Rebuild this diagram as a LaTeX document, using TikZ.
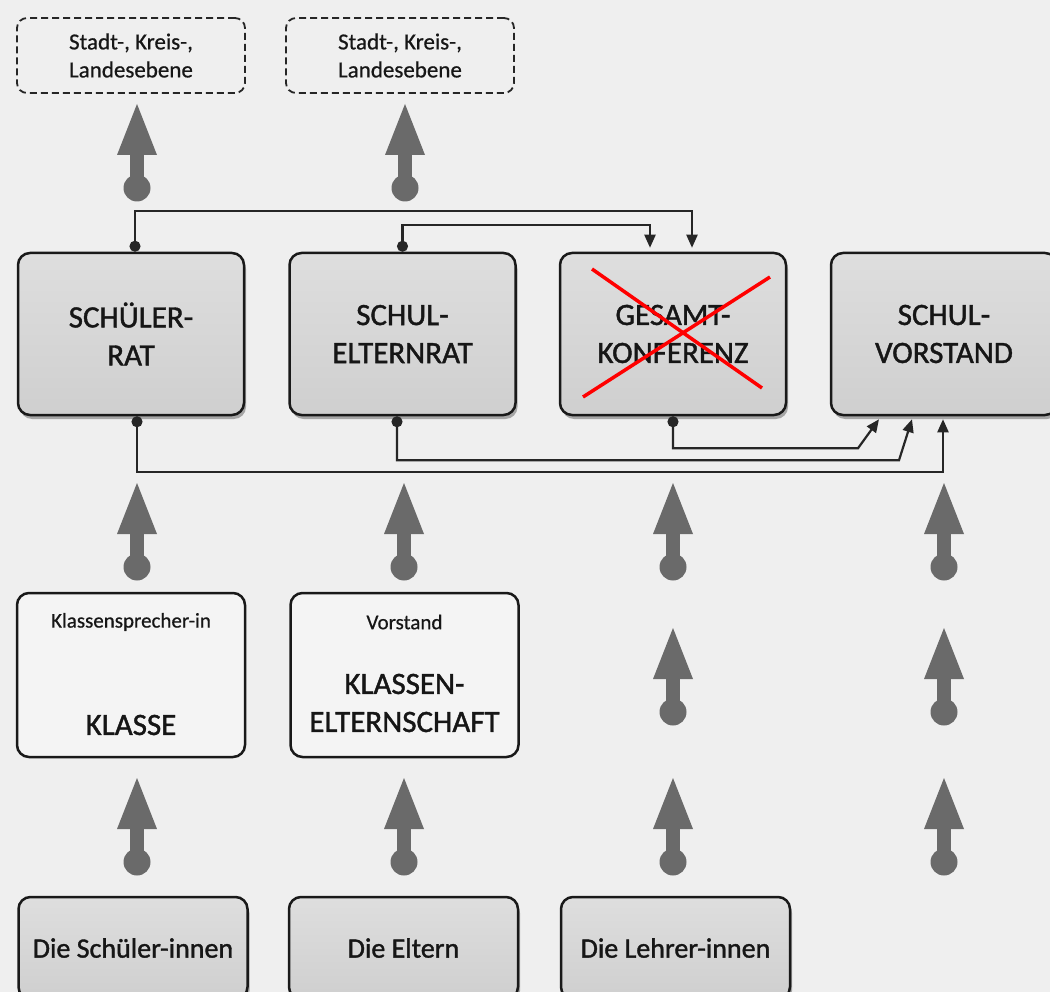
\documentclass[tikz,border=0pt]{standalone}
\usepackage{fontspec}
\setmainfont{Carlito}
\newfontfamily\medfont{Carlito}[FakeBold=1.3]
\newfontfamily\semifont{Carlito}[FakeBold=0.6]
\usetikzlibrary{arrows.meta,shadows,calc}
\definecolor{bg}{HTML}{EFEFEF}
\definecolor{agray}{HTML}{6A6A6A}
\definecolor{boxtop}{HTML}{DEDEDE}
\definecolor{boxbot}{HTML}{CFCFCF}
\definecolor{txt}{HTML}{161616}
\definecolor{wfill}{HTML}{F4F4F4}
\begin{document}
\begin{tikzpicture}[x=1pt,y=-1pt,
  graybox/.style={draw=black!90, line width=2.5pt, rounded corners=12pt,
    top color=boxtop, bottom color=boxbot, minimum width=226pt, minimum height=162pt,
    inner sep=0pt, align=center, text=txt, font=\medfont\fontsize{31}{38}\selectfont,
    drop shadow={shadow xshift=2pt, shadow yshift=-4pt, opacity=0.3, fill=black}},
  basebox/.style={graybox, minimum width=229pt, minimum height=102pt, font=\medfont\fontsize{28}{33}\selectfont},
  whitebox/.style={draw=black!90, line width=2.5pt, rounded corners=12pt, fill=wfill,
    minimum width=228pt, minimum height=164pt, inner sep=0pt},
  dashbox/.style={draw=black!85, line width=1.8pt, dash pattern=on 7pt off 4pt,
    rounded corners=10pt, minimum width=228pt, minimum height=75pt, inner sep=0pt,
    align=center, text=txt, font=\semifont\fontsize{23}{28}\selectfont},
  bigtxt/.style={align=center, text=txt, inner sep=0pt, font=\medfont\fontsize{31}{38}\selectfont},
  smalltxt/.style={align=center, text=txt, inner sep=0pt, font=\semifont\fontsize{21}{25}\selectfont},
  conn/.style={line width=2.2pt, draw=black!85,
    {Circle[length=11pt,width=11pt]}-{Triangle[length=13pt,width=11pt]}},
  fatup/.pic={
    \fill[agray] (0,0) circle[radius=13.5pt];
    \fill[agray] (-7,0) rectangle (7,-34);
    \fill[agray] (-20,-33) -- (0,-84) -- (20,-33) -- cycle;
  }]
\useasboundingbox (0,0) rectangle (1050,992);
\clip (0,0) rectangle (1050,992);
\fill[bg] (0,0) rectangle (1050,992);

% top dashed boxes
\node[dashbox] (s1) at (131,55.5) {Stadt-, Kreis-,\\Landesebene};
\node[dashbox] (s2) at (400,55.5) {Stadt-, Kreis-,\\Landesebene};

% main gray boxes
\node[graybox] (b1) at (131,334) {SCHÜLER-\\RAT};
\node[graybox] (b2) at (402.5,334) {SCHUL-\\ELTERNRAT};
\node[graybox] (b3) at (673,334) {GESAMT-\\KONFERENZ};
\node[graybox] (b4) at (944,334) {SCHUL-\\VORSTAND};

% cross over Gesamtkonferenz
\draw[red, line width=3.5pt] (592,269) -- (762,388);
\draw[red, line width=3.5pt] (583,397) -- (770,277);

% white boxes
\node[whitebox] (k1) at (131,675) {};
\node[smalltxt] (k1a) at (131,622) {Klassensprecher-in};
\node[bigtxt] (k1b) at (131,725) {KLASSE};
\node[whitebox] (k2) at (404.5,675) {};
\node[smalltxt] (k2a) at (404.5,622) {Vorstand};
\node[bigtxt] (k2b) at (404.5,703) {KLASSEN-\\ELTERNSCHAFT};

% bottom boxes
\node[basebox] (d1) at (133,948) {Die Schüler-innen};
\node[basebox] (d2) at (403.5,948) {Die Eltern};
\node[basebox] (d3) at (675.5,948) {Die Lehrer-innen};

% thin connectors, top
\draw[conn] ([xshift=4pt]b1.north) |- ([xshift=19pt,yshift=41pt]b3.north) -- ([xshift=19pt,yshift=4pt]b3.north);
\draw[conn] (b2.north) |- ([xshift=-23pt,yshift=27pt]b3.north) -- ([xshift=-23pt,yshift=4pt]b3.north);

% thin connectors, bottom
\draw[conn] ([xshift=6pt]b1.south) |- ([xshift=-1pt,yshift=-56pt]b4.south) -- ([xshift=-1pt,yshift=-3pt]b4.south);
\draw[conn] ([xshift=-5.5pt]b2.south) |- ([xshift=-45pt,yshift=-44pt]b4.south) -- ([xshift=-32pt,yshift=-3pt]b4.south);
\draw[conn] (b3.south) |- ([xshift=-86pt,yshift=-32pt]b4.south) -- ([xshift=-65pt,yshift=-3pt]b4.south);

% thick grey arrows
\pic at (137,188) {fatup};
\pic at (405,188) {fatup};
\foreach \x in {137,404,673,944} { \pic at (\x,567) {fatup}; }
\foreach \x in {673,944} { \pic at (\x,712) {fatup}; }
\foreach \x in {137,404,673,944} { \pic at (\x,862) {fatup}; }
\end{tikzpicture}
\end{document}
